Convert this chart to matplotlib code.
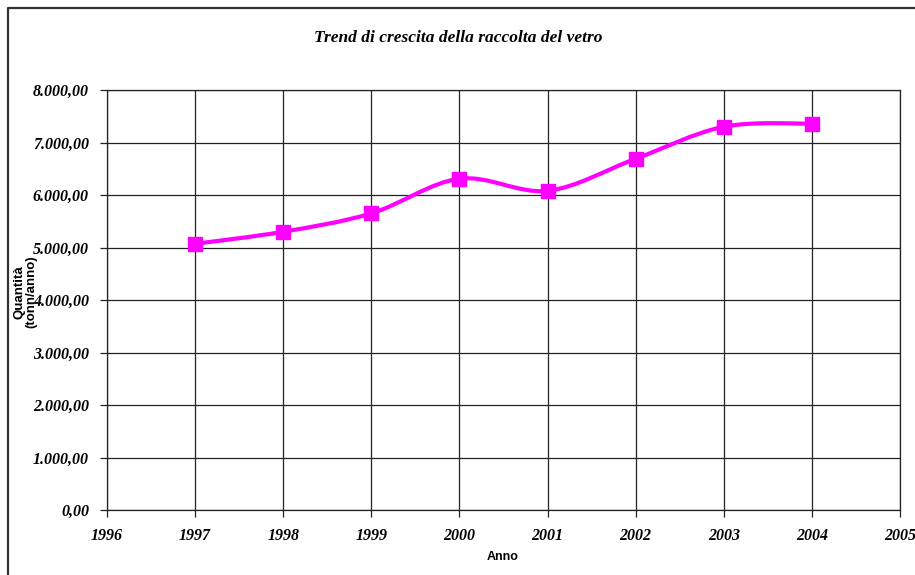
import matplotlib
matplotlib.use("Agg")
import matplotlib.pyplot as plt
import numpy as np
from matplotlib.lines import Line2D
from matplotlib.path import Path
from matplotlib.patches import PathPatch

years = [1997, 1998, 1999, 2000, 2001, 2002, 2003, 2004]
tonnes = [5070, 5300, 5650, 6310, 6080, 6690, 7300, 7360]

x_ticks = list(range(1996, 2006))
y_ticks = list(range(0, 9000, 1000))

MAGENTA = "#ff00ff"
SERIF = "Liberation Serif"
SANS = "Liberation Sans"


def it_number(v):
    # 8000 -> "8.000,00"
    s = f"{v:,.2f}"
    return s.replace(",", "X").replace(".", ",").replace("X", ".")


def smooth_path(xs, ys):
    # Excel-style smoothed line: cubic Bezier segments, Catmull-Rom tangents
    pts = np.column_stack([xs, ys]).astype(float)
    verts = [pts[0]]
    codes = [Path.MOVETO]
    n = len(pts)
    for i in range(n - 1):
        p0 = pts[max(i - 1, 0)]
        p1 = pts[i]
        p2 = pts[i + 1]
        p3 = pts[min(i + 2, n - 1)]
        c1 = p1 + (p2 - p0) / 6.0
        c2 = p2 - (p3 - p1) / 6.0
        verts += [c1, c2, p2]
        codes += [Path.CURVE4] * 3
    return Path(verts, codes)


fig = plt.figure(figsize=(9.15, 5.75), dpi=100)
W, H = 915, 575
ax = fig.add_axes([107 / W, (H - 510) / H, (900 - 107) / W, (510 - 90) / H])

ax.set_xlim(x_ticks[0], x_ticks[-1])
ax.set_ylim(y_ticks[0], y_ticks[-1])
ax.set_xticks(x_ticks)
ax.set_yticks(y_ticks)
ax.set_xticklabels([str(y) for y in x_ticks], fontfamily=SERIF,
                   fontweight="bold", fontstyle="italic", fontsize=11.5)
ax.set_yticklabels([it_number(v) for v in y_ticks], fontfamily=SERIF,
                   fontweight="bold", fontstyle="italic", fontsize=11.5)
ax.tick_params(axis="both", direction="out", length=5, width=0.9, color="#222222")
ax.tick_params(axis="x", pad=8)
ax.tick_params(axis="y", pad=8)

ax.grid(True, color="#222222", linewidth=0.9)
ax.set_axisbelow(True)
for sp in ax.spines.values():
    sp.set_color("#222222")
    sp.set_linewidth(0.9)

curve = PathPatch(smooth_path(years, tonnes), facecolor="none",
                  edgecolor=MAGENTA, linewidth=3, zorder=3)
ax.add_patch(curve)
ax.plot(years, tonnes, linestyle="none", marker="s", markersize=9.5,
        color=MAGENTA, zorder=4, clip_on=False)

fig.text(458 / W, 1 - 38 / H, "Trend di crescita della raccolta del vetro",
         ha="center", va="center", fontfamily=SERIF, fontweight="bold",
         fontstyle="italic", fontsize=12.5)
fig.text(503 / W, 1 - 557 / H, "Anno", ha="center", va="center",
         fontfamily=SANS, fontweight="bold", fontsize=9)
fig.text(25 / W, 1 - 292 / H, "Quantità\n(tonn/anno)", ha="center", va="center",
         rotation=90, fontfamily=SANS, fontweight="bold", fontsize=9.5,
         linespacing=1.0)

# outer chart frame (only left and top edges fall inside the picture)
frame = Line2D([8 / W, 8 / W, 1.02], [-0.02, 1 - 8 / H, 1 - 8 / H],
               transform=fig.transFigure, color="#333333", linewidth=1.6)
fig.add_artist(frame)

fig.savefig("out.png", dpi=100)
